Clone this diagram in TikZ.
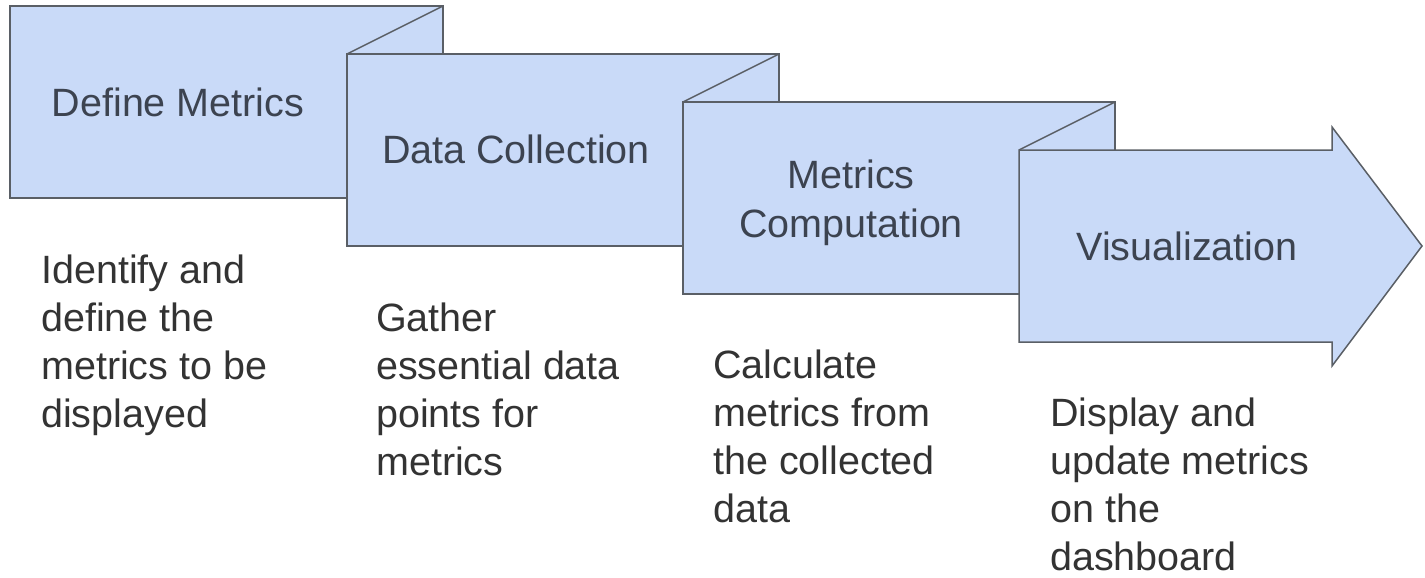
\documentclass[tikz,border=0pt]{standalone}
\usepackage{fontspec}
\setmainfont{Liberation Sans}
\definecolor{boxfill}{HTML}{C9DAF8}
\definecolor{boxline}{HTML}{5A5F66}
\definecolor{headtxt}{HTML}{3C4350}
\definecolor{bodytxt}{HTML}{333333}
\begin{document}
\begin{tikzpicture}[x=1pt,y=-1pt,
  stage/.style={draw=boxline, fill=boxfill, line width=1.5pt, line join=miter},
  fold/.style={draw=boxline, line width=1.5pt},
  head/.style={text=headtxt, font=\fontsize{39.5}{49}\selectfont, inner sep=0pt, align=center},
  desc/.style={text=bodytxt, font=\fontsize{39.5}{48}\selectfont, inner sep=0pt, align=left, anchor=base west}]
\useasboundingbox (0,0) rectangle (1425,578);
% stage boxes
\path[stage] (10,6) rectangle (443,198);
\coordinate (b1ne) at (443,6);
\path[stage] (347,54) rectangle (779,246);
\coordinate (b2nw) at (347,54);
\coordinate (b2ne) at (779,54);
\path[stage] (683,102) rectangle (1115,294);
\coordinate (b3nw) at (683,102);
\coordinate (b3ne) at (1115,102);
\path[stage] (1019,150) -- (1332,150) -- (1332,127) -- (1422,246) -- (1332,366) -- (1332,342) -- (1019,342) -- cycle;
\coordinate (b4nw) at (1019,150);
% folds
\draw[fold] (b1ne) -- (b2nw);
\draw[fold] (b2ne) -- (b3nw);
\draw[fold] (b3ne) -- (b4nw);
% titles
\node[head, anchor=base] (t1) at (178,117) {Define Metrics};
\node[head, anchor=base] (t2) at (516,163) {Data Collection};
\node[head, anchor=base] (t3a) at (851,188) {Metrics};
\node[head, anchor=base] (t3b) at (851,237) {Computation};
\node[head, anchor=base] (t4) at (1187,260) {Visualization};
% descriptions (anchor = baseline of last line)
\node[desc] (d1) at (41,427) {Identify and\\define the\\metrics to be\\displayed};
\node[desc] (d2) at (376,475) {Gather\\essential data\\points for\\metrics};
\node[desc] (d3) at (713,522) {Calculate\\metrics from\\the collected\\data};
\node[desc] (d4) at (1050,570) {Display and\\update metrics\\on the\\dashboard};
\end{tikzpicture}
\end{document}
